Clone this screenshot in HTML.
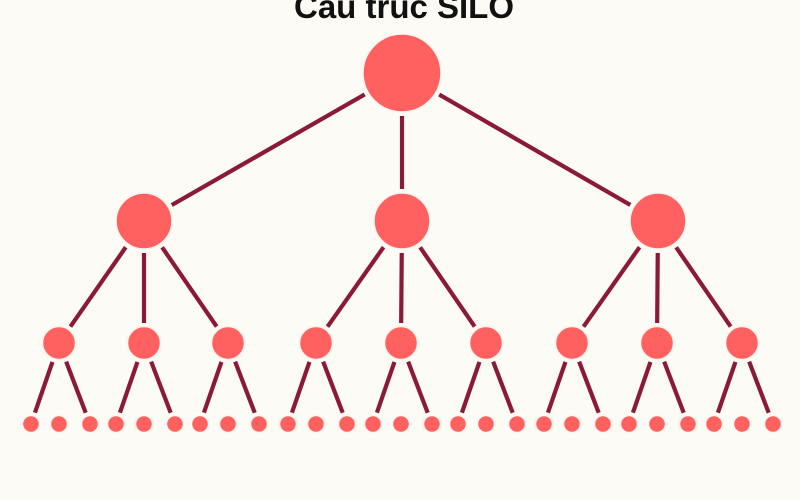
<!DOCTYPE html>
<html><head><meta charset="utf-8"><style>
html,body{margin:0;padding:0;background:#fdfbf5;}
svg{display:block}
</style></head><body>
<svg id="s" width="800" height="500" viewBox="0 0 800 500" xmlns="http://www.w3.org/2000/svg">
<rect width="800" height="500" fill="#fdfbf5"/>
<text x="404" y="18" text-anchor="middle" font-family="Liberation Sans, Arial, sans-serif" font-weight="bold" font-size="33" fill="#111">Cấu trúc SILO</text>
<g id="lines" stroke="#8b1a3a" stroke-width="4.2" stroke-linecap="butt"></g>
<g id="nodes" fill="#ff6161" stroke="#fff5ee" stroke-width="1.5"></g>
</svg>
<script>
var L=document.getElementById('lines'),N=document.getElementById('nodes'),ns='http://www.w3.org/2000/svg';
function c(x,y,r){var e=document.createElementNS(ns,'circle');e.setAttribute('cx',x);e.setAttribute('cy',y);e.setAttribute('r',r);N.appendChild(e);}
function l(a,b,ra,rb){var dx=b[0]-a[0],dy=b[1]-a[1],d=Math.hypot(dx,dy),ux=dx/d,uy=dy/d;
var e=document.createElementNS(ns,'line');e.setAttribute('x1',a[0]+ux*(ra+4));e.setAttribute('y1',a[1]+uy*(ra+4));
e.setAttribute('x2',b[0]-ux*(rb+4));e.setAttribute('y2',b[1]-uy*(rb+4));L.appendChild(e);}
var root=[402,73];c(402,73,39);
var l2=[144,402,658];
var l3=[[59,144,228],[316,401,486],[572,657,742]];
l2.forEach(function(x,i){var p=[x,221];l(root,p,39,28);c(x,221,28);
 l3[i].forEach(function(x3){var q=[x3,343];l(p,q,28,16);c(x3,343,16.5);
  [-28,0,31].forEach(function(o,k){var lf=[x3+o,424];if(k!=1)l(q,lf,16,8);c(x3+o,424,8.5);});
 });
});
</script>
</body></html>
